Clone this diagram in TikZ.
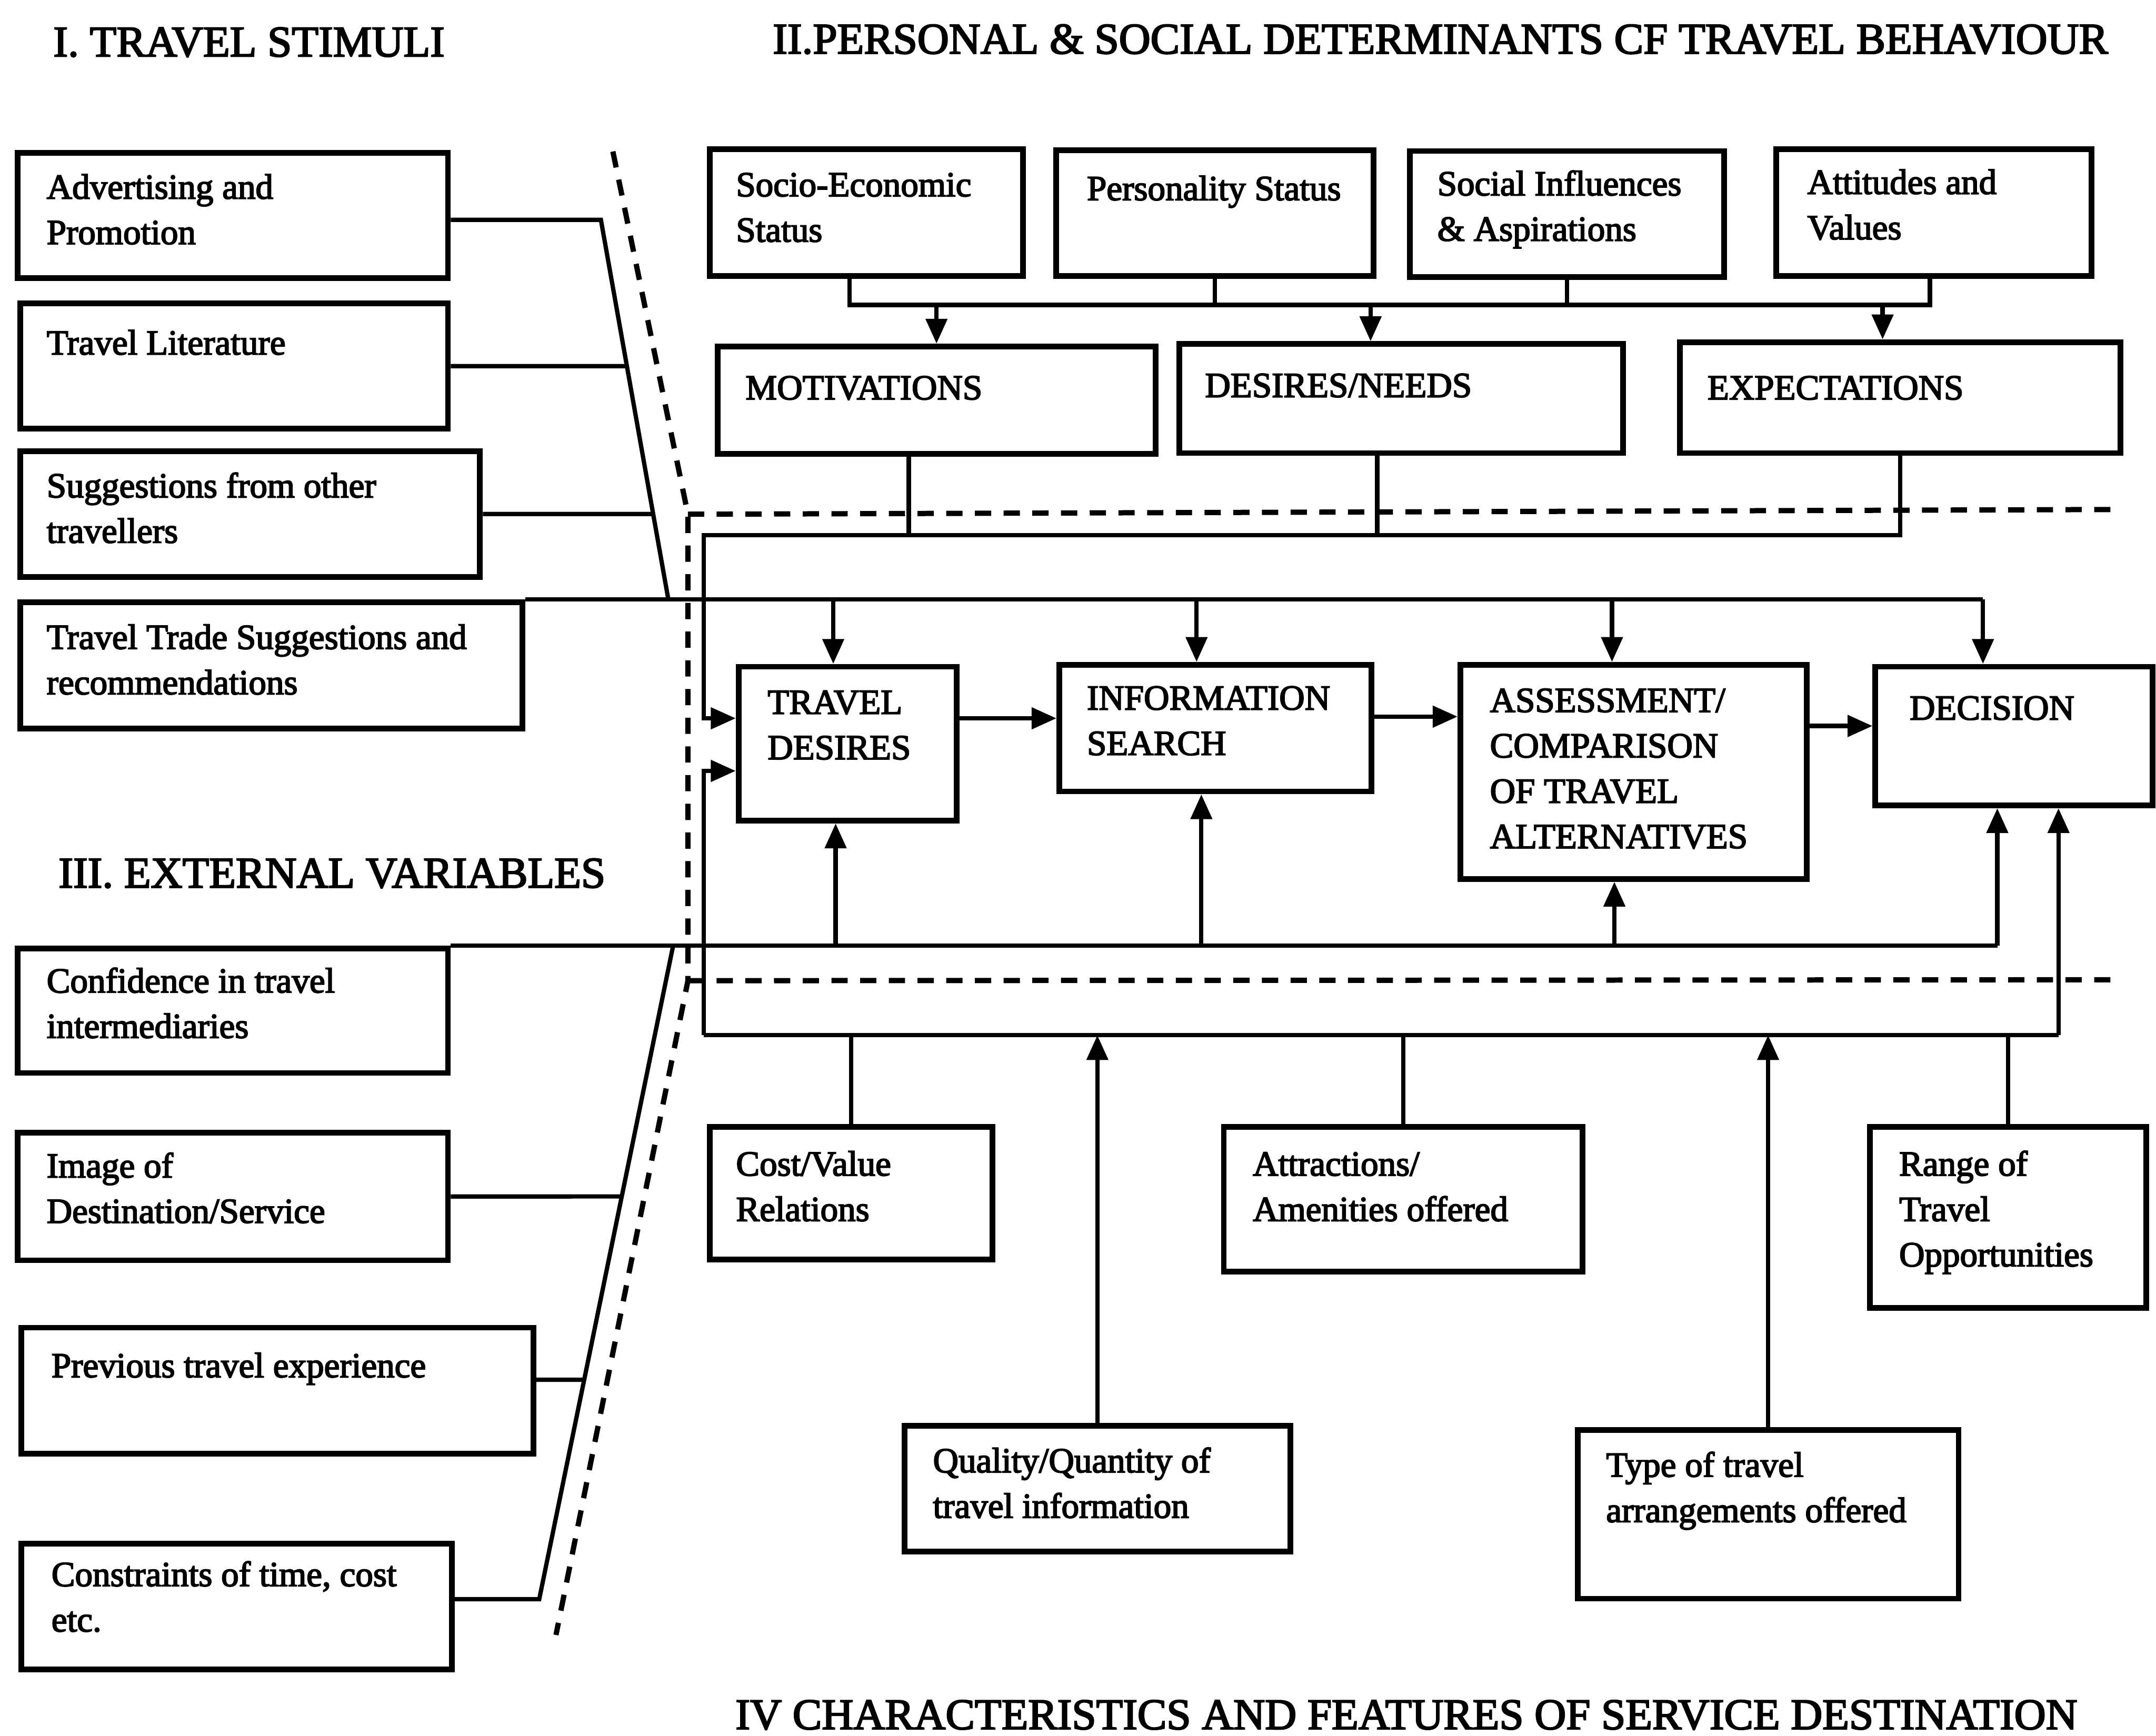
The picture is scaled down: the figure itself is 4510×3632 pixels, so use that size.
\documentclass[tikz,border=0pt]{standalone}
\usepackage{fontspec}
\setmainfont{Liberation Serif}
\newfontfamily\heavy{Liberation Serif}[FakeBold=3]
\usetikzlibrary{arrows.meta}

% box: corners given in drawing units (x1,y1) top-left, (x2,y2) bottom-right
\newcommand\mkbox[5]{\node[box, minimum width={(#4-#2)*0.01cm}, minimum height={(#5-#3)*0.01cm}] (#1) at (#2,#3) {};}
% label: left edge and first baseline
\newcommand\mktext[4]{\node[lbl] (#1) at (#2,{#3-66.4}) {\strut#4};}

\begin{document}
\begin{tikzpicture}[x=0.01cm, y=-0.01cm,
  box/.style={draw, line width=0.12cm, inner sep=0pt, anchor=north west},
  lbl/.style={inner sep=0pt, anchor=north west, align=left, font=\heavy\fontsize{21}{27}\selectfont},
  ttl/.style={inner sep=0pt, anchor=base west, font=\heavy\fontsize{26}{30}\selectfont},
  conn/.style={line width=0.09cm},
  arr/.style={conn, -{Triangle[length=0.52cm,width=0.44cm]}},
  sep/.style={line width=0.11cm, dash pattern=on 0.34cm off 0.26cm},
]
\fill[white] (0,0) rectangle (4510,3632);
\useasboundingbox (0,0) rectangle (4510,3632);

% section headings
\node[ttl] (tI) at (111,118) {I. TRAVEL STIMULI};
\node[ttl] (tII) at (1616,112) {II.PERSONAL \& SOCIAL DETERMINANTS CF TRAVEL BEHAVIOUR};
\node[ttl] (tIII) at (122,1857) {III. EXTERNAL VARIABLES};
\node[ttl] (tIV) at (1538,3618) {IV CHARACTERISTICS AND FEATURES OF SERVICE DESTINATION};

% travel stimuli
\mkbox{adv}{31}{314}{931}{576}
\mkbox{lit}{36}{629}{931}{891}
\mkbox{sug}{36}{938}{998}{1201}
\mkbox{trade}{36}{1254}{1087}{1518}
% external variables
\mkbox{conf}{31}{1979}{931}{2239}
\mkbox{img}{31}{2364}{931}{2631}
\mkbox{prev}{39}{2772}{1110}{3036}
\mkbox{cons}{39}{3224}{939}{3487}
% personal and social determinants
\mkbox{socio}{1479}{306}{2134}{571}
\mkbox{pers}{2203}{308}{2867}{571}
\mkbox{social}{2943}{310}{3601}{574}
\mkbox{attit}{3710}{306}{4369}{571}
\mkbox{motiv}{1495}{719}{2411}{944}
\mkbox{desn}{2461}{714}{3389}{942}
\mkbox{expect}{3508}{710}{4430}{942}
% decision process
\mkbox{tdes}{1539}{1389}{1995}{1711}
\mkbox{info}{2210}{1385}{2863}{1650}
\mkbox{assess}{3049}{1385}{3773}{1833}
\mkbox{dec}{3917}{1389}{4497}{1679}
% service destination features
\mkbox{cost}{1479}{2352}{2070}{2629}
\mkbox{attr}{2554}{2352}{3304}{2655}
\mkbox{range}{3905}{2352}{4484}{2731}
\mkbox{qual}{1886}{2977}{2693}{3240}
\mkbox{type}{3294}{2986}{4091}{3339}

\mktext{advT}{97}{415}{Advertising and\\Promotion}
\mktext{litT}{97}{741}{Travel Literature}
\mktext{sugT}{97}{1040}{Suggestions from other\\travellers}
\mktext{tradeT}{97}{1357}{Travel Trade Suggestions and\\recommendations}
\mktext{confT}{97}{2076}{Confidence in travel\\intermediaries}
\mktext{imgT}{97}{2463}{Image of\\Destination/Service}
\mktext{prevT}{107}{2881}{Previous travel experience}
\mktext{consT}{107}{3318}{Constraints of time, cost\\etc.}
\mktext{socioT}{1539}{410}{Socio-Economic\\Status}
\mktext{persT}{2273}{418}{Personality Status}
\mktext{socialT}{3006}{408}{Social Influences\\\& Aspirations}
\mktext{attitT}{3780}{405}{Attitudes and\\Values}
\mktext{motivT}{1559}{835}{MOTIVATIONS}
\mktext{desnT}{2520}{830}{DESIRES/NEEDS}
\mktext{expectT}{3571}{835}{EXPECTATIONS}
\mktext{tdesT}{1605}{1493}{TRAVEL\\DESIRES}
\mktext{infoT}{2273}{1484}{INFORMATION\\SEARCH}
\mktext{assessT}{3116}{1489}{ASSESSMENT/\\COMPARISON\\OF TRAVEL\\ALTERNATIVES}
\mktext{decT}{3994}{1505}{DECISION}
\mktext{costT}{1539}{2459}{Cost/Value\\Relations}
\mktext{attrT}{2620}{2459}{Attractions/\\Amenities offered}
\mktext{rangeT}{3972}{2459}{Range of\\Travel\\Opportunities}
\mktext{qualT}{1951}{3080}{Quality/Quantity of\\travel information}
\mktext{typeT}{3359}{3089}{Type of travel\\arrangements offered}

% junction points
\coordinate (busL) at (1777,638);
\coordinate (busR) at (4037,638);
\coordinate (busD) at (2867,638);
\coordinate (busE) at (3938,638);
\coordinate (tb) at (1472,1120);
\coordinate (tbM) at (1901,1120);
\coordinate (tbD) at (2881,1120);
\coordinate (stimR) at (4148,1254);
\coordinate (sA) at (1743,1254);
\coordinate (sB) at (2503,1254);
\coordinate (sC) at (3372,1254);
\coordinate (extR) at (4178,1979);
\coordinate (eA) at (1748,1979);
\coordinate (eB) at (2513,1979);
\coordinate (eC) at (3377,1979);
\coordinate (bb) at (1472,2166);
\coordinate (bbR) at (4306,2166);
\coordinate (tdesA) at ([yshift=0.53cm]tdes.west);
\coordinate (tdesB) at ([yshift=-0.57cm]tdes.west);
\coordinate (iA) at ([yshift=0.24cm]info.east);
\coordinate (dA) at ([yshift=0.21cm]dec.west);

% determinants feed motivations, desires and expectations
\draw[conn] (socio.south -| busL) -- (busL) -- (busR) -- (attit.south -| busR);
\draw[conn] (pers.south) -- (pers.south |- busL);
\draw[conn] (social.south) -- (social.south |- busL);
\draw[arr] (motiv.north |- busL) -- (motiv.north);
\draw[arr] (busD) -- (busD |- desn.north);
\draw[arr] (busE) -- (busE |- expect.north);

% motivations, desires and expectations feed travel desires
\draw[conn] (tbM |- motiv.south) -- (tbM);
\draw[conn] (tbD |- desn.south) -- (tbD);
\draw[arr] (expect.south) -- (expect.south |- tb) -- (tb) -- (tb |- tdesA) -- (tdesA);

% decision chain
\draw[arr] (tdes.east |- tdesA) -- (info.west |- tdesA);
\draw[arr] (iA) -- (assess.west |- iA);
\draw[arr] (assess.east |- dA) -- (dA);

% travel stimuli line
\draw[conn] (trade.north east) -- (stimR);
\draw[arr] (stimR) -- (stimR |- dec.north);
\draw[arr] (sA) -- (sA |- tdes.north);
\draw[arr] (sB) -- (sB |- info.north);
\draw[arr] (sC) -- (sC |- assess.north);

% external variables line
\draw[conn] (conf.north east) -- (extR);
\draw[arr] (extR) -- (extR |- dec.south);
\draw[arr] (eA) -- (eA |- tdes.south);
\draw[arr] (eB) -- (eB |- info.south);
\draw[arr] (eC) -- (eC |- assess.south);

% destination features bracket
\draw[conn] (bbR) -- (bb);
\draw[arr] (bb) -- (bb |- tdesB) -- (tdesB);
\draw[arr] (bbR) -- (bbR |- dec.south);
\draw[conn] (cost.north) -- (cost.north |- bb);
\draw[arr] (qual.north) -- (qual.north |- bb);
\draw[conn] (attr.north) -- (attr.north |- bb);
\draw[arr] (type.north) -- (type.north |- bb);
\draw[conn] (range.north) -- (range.north |- bb);

% stimuli boxes gathered onto the stimuli line
\coordinate (s1) at (1257,460);
\coordinate (s2) at (1398,1254);
\draw[conn] (adv.east |- s1) -- (s1) -- (s2);
\coordinate (litH) at (lit.east -| s2);
\draw[conn] (lit.east) -- (intersection of lit.east--litH and s1--s2);
\coordinate (sugH) at (sug.east -| s2);
\draw[conn] (sug.east) -- (intersection of sug.east--sugH and s1--s2);

% external variable boxes gathered onto the external line
\coordinate (e1) at (1408,1979);
\coordinate (e2) at (1128,3346);
\draw[conn] (cons.east |- e2) -- (e2) -- (e1);
\coordinate (imgH) at (img.east -| e1);
\draw[conn] (img.east) -- (intersection of img.east--imgH and e1--e2);
\coordinate (prevP) at ([yshift=0.23cm]prev.east);
\coordinate (prevH) at (prevP -| e1);
\draw[conn] (prevP) -- (intersection of prevP--prevH and e1--e2);

% dashed region boundaries
\coordinate (d1) at (1282,317);
\coordinate (d2) at (1439,1076);
\coordinate (d3) at (1439,2052);
\coordinate (d4) at (1163,3421);
\coordinate (dR1) at (4440,1066);
\coordinate (dR2) at (4440,2050);
\draw[sep] (d1) -- (d2) -- (d3) -- (d4);
\draw[sep] (d2) -- (dR1);
\draw[sep] (d3) -- (dR2);
\end{tikzpicture}
\end{document}
